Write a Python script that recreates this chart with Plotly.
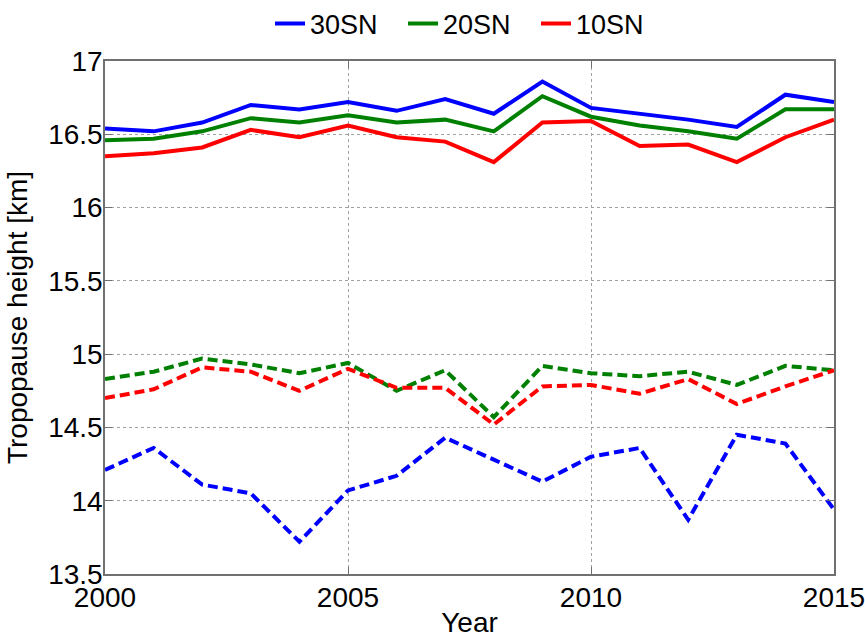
import plotly.graph_objects as go

years = list(range(2000, 2016))

sn30_solid = [16.54, 16.52, 16.58, 16.70, 16.67, 16.72, 16.66, 16.74, 16.64, 16.86, 16.68, 16.64, 16.60, 16.55, 16.77, 16.72]
sn20_solid = [16.46, 16.47, 16.52, 16.61, 16.58, 16.63, 16.58, 16.60, 16.52, 16.76, 16.62, 16.56, 16.52, 16.47, 16.67, 16.67]
sn10_solid = [16.35, 16.37, 16.41, 16.53, 16.48, 16.56, 16.48, 16.45, 16.31, 16.58, 16.59, 16.42, 16.43, 16.31, 16.48, 16.60]

sn30_dash = [14.21, 14.36, 14.11, 14.05, 13.72, 14.07, 14.17, 14.43, 14.28, 14.13, 14.30, 14.36, 13.87, 14.45, 14.39, 13.94]
sn20_dash = [14.83, 14.88, 14.97, 14.93, 14.87, 14.94, 14.75, 14.89, 14.57, 14.92, 14.87, 14.85, 14.88, 14.79, 14.92, 14.89]
sn10_dash = [14.70, 14.76, 14.91, 14.88, 14.75, 14.90, 14.77, 14.77, 14.52, 14.78, 14.79, 14.73, 14.83, 14.66, 14.78, 14.89]

names = ["30SN", "20SN", "10SN"]
colors = ["#0000ff", "#008000", "#ff0000"]
solids = [sn30_solid, sn20_solid, sn10_solid]
dashes = [sn30_dash, sn20_dash, sn10_dash]

fig = go.Figure()
for name, col, ys in zip(names, colors, solids):
    fig.add_trace(go.Scatter(x=years, y=ys, mode="lines", name=name,
                             line=dict(color=col, width=4)))
for name, col, ys in zip(names, colors, dashes):
    fig.add_trace(go.Scatter(x=years, y=ys, mode="lines", name=name, showlegend=False,
                             line=dict(color=col, width=4, dash="10px,5px")))

font = "Liberation Sans, Arial, sans-serif"
axis_common = dict(
    showline=True, linecolor="#707070", linewidth=1.5, mirror="ticks",
    ticks="inside", ticklen=7, tickcolor="#707070",
    showgrid=True, gridcolor="#a0a0a0", griddash="dot", gridwidth=1,
    zeroline=False, tickfont=dict(family=font, size=28, color="black"),
    automargin=False, ticklabeloverflow="allow",
)

fig.update_layout(
    width=865, height=639,
    margin=dict(l=105, r=31, t=61, b=65, autoexpand=False),
    paper_bgcolor="white", plot_bgcolor="white",
    font=dict(family=font, size=28, color="black"),
    showlegend=True,
    legend=dict(orientation="h", x=0.5, xanchor="center", xref="paper",
                y=1 - 24 / 639, yanchor="middle", yref="container",
                font=dict(family=font, size=27, color="black"), bgcolor="rgba(0,0,0,0)",
                entrywidth=88, tracegroupgap=0),
    xaxis=dict(range=[2000, 2015], dtick=5, tick0=2000, ticklabelstandoff=-2,
               title=dict(text="Year", font=dict(family=font, size=28), standoff=0),
               **axis_common),
    yaxis=dict(range=[13.5, 17], dtick=0.5, tick0=13.5, ticklabelstandoff=-5,
               title=dict(text="Tropopause height [km]", font=dict(family=font, size=28), standoff=12),
               **axis_common),
)

fig.write_html("out.html", config={"displayModeBar": False},
               post_script="document.body.style.margin='0';document.body.style.overflow='hidden';")
